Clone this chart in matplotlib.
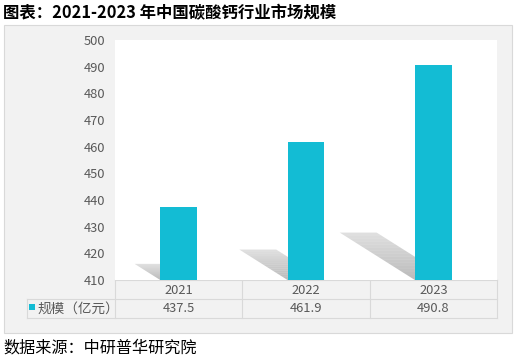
import numpy as np
import matplotlib
matplotlib.use("Agg")
import matplotlib.pyplot as plt
from matplotlib.patches import Rectangle, Polygon
from matplotlib.transforms import blended_transform_factory

plt.rcParams['font.family'] = ['Noto Sans CJK SC', 'DejaVu Sans']

title = "图表：2021-2023 年中国碳酸钙行业市场规模"
source = "数据来源：中研普华研究院"
series_name = "规模（亿元）"
years = ["2021", "2022", "2023"]
values = [437.5, 461.9, 490.8]
y_ticks = [410, 420, 430, 440, 450, 460, 470, 480, 490, 500]

W, H = 517, 361
BAR = "#13bcd4"
GRID = "#d9d9d9"
TXT = "#595959"

fig = plt.figure(figsize=(W / 100, H / 100), dpi=100)

# background layer in pixel coords
bg = fig.add_axes([0, 0, 1, 1], zorder=0)
bg.set_xlim(0, W)
bg.set_ylim(H, 0)
bg.axis("off")
bg.add_patch(Rectangle((4, 25), 508, 308, facecolor="#f2f2f2", edgecolor="#d9d9d9", lw=0.8))
bg.text(3, 13, title, fontsize=11.8, fontweight="bold", va="center", ha="left", color="black")
bg.text(3, 348, source, fontsize=11.6, va="center", ha="left", color="black")

# plot area
L, R, T, B = 115, 497, 40, 280
ax = fig.add_axes([L / W, (H - B) / H, (R - L) / W, (B - T) / H], zorder=1)
ax.set_facecolor("white")
x = np.arange(len(years))
ax.set_xlim(-0.5, len(years) - 0.5)
ax.set_ylim(y_ticks[0], y_ticks[-1])
ax.set_yticks(y_ticks)
ax.set_xticks([])
ax.tick_params(axis="y", length=0, pad=7, labelsize=9.3, labelcolor=TXT)
for s in ax.spines.values():
    s.set_visible(False)

bw = 0.29
base = y_ticks[0]
# diagonal drop shadows behind the bars
for xi, v in zip(x, values):
    h = v - base
    dx = -0.0073 * h
    dy = 0.22 * h
    x0 = xi - bw / 2
    n = 16
    for k in range(n):
        f0, f1 = k / n, (k + 1) / n
        poly = [
            (x0 + dx * f0, base + dy * f0),
            (x0 + bw + dx * f0, base + dy * f0),
            (x0 + bw + dx * f1, base + dy * f1),
            (x0 + dx * f1, base + dy * f1),
        ]
        alpha = 0.6 * (1 - 0.55 * (f0 + f1) / 2)
        ax.add_patch(Polygon(poly, closed=True, facecolor="#8c8c8c", edgecolor="none",
                             alpha=alpha, zorder=1))
ax.bar(x, [v - base for v in values], bottom=base, width=bw, color=BAR, zorder=3)

# data table under the axes
tr = blended_transform_factory(ax.transData, ax.transAxes)
px = lambda p: (B - p) / (B - T)
for xi, yr, v in zip(x, years, values):
    ax.text(xi, px(290), yr, transform=tr, ha="center", va="center", fontsize=9.3, color=TXT, clip_on=False)
    ax.text(xi, px(309), f"{v:.1f}", transform=tr, ha="center", va="center", fontsize=9.3, color=TXT, clip_on=False)

for yy, x_from in [(280, L), (299, 27), (318, 27)]:
    bg.plot([x_from, R], [yy, yy], color=GRID, lw=0.8)
col_w = (R - L) / len(years)
for i in range(len(years) + 1):
    xx = L + i * col_w
    bg.plot([xx, xx], [280, 318], color=GRID, lw=0.8)
bg.plot([27, 27], [299, 318], color=GRID, lw=0.8)
bg.add_patch(Rectangle((29, 304), 6, 6, facecolor=BAR, edgecolor="none"))
bg.text(37, 308.5, series_name, fontsize=9.8, va="center", ha="left", color=TXT)

fig.savefig("out.png", dpi=100)
